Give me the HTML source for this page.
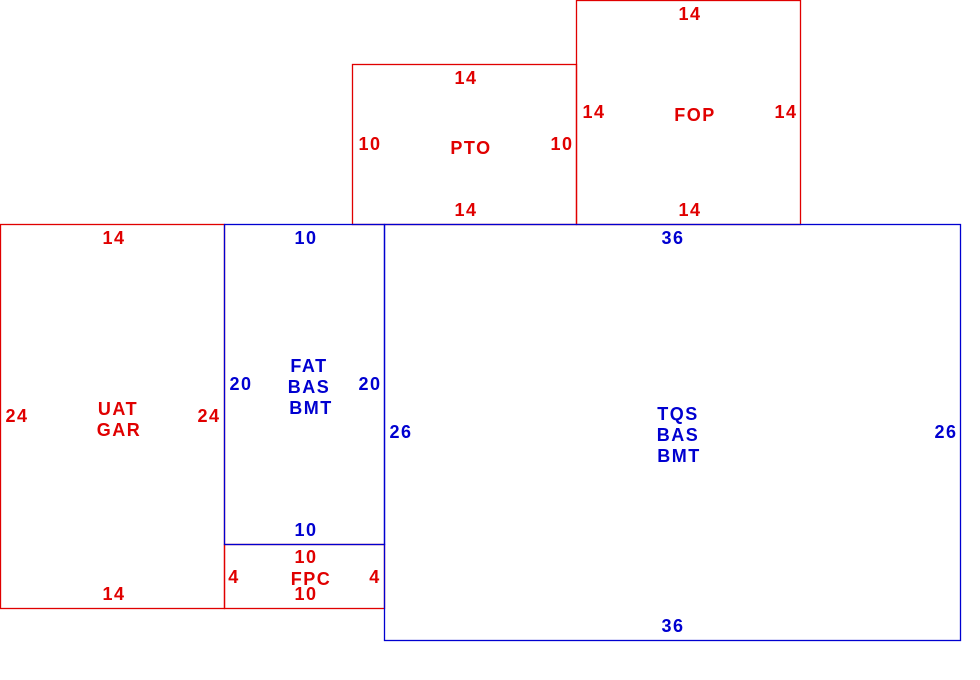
<!DOCTYPE html>
<html><head><meta charset="utf-8"><style>
html,body{margin:0;padding:0;background:#fff;width:980px;height:680px;overflow:hidden}
text{font-family:"Liberation Sans",sans-serif;font-size:18px;font-weight:bold;text-anchor:middle;letter-spacing:1.5px}
.r{fill:#e00000}.b{fill:#0000d0}
</style></head><body>
<svg width="980" height="680" xmlns="http://www.w3.org/2000/svg">
<g fill="none" stroke-width="1.3">
<rect x="352.5" y="64.5" width="224" height="160" stroke="#e00000"/>
<rect x="576.5" y="0.5" width="224" height="224" stroke="#e00000"/>
<rect x="0.5" y="224.5" width="224" height="384" stroke="#e00000"/>
<rect x="224.5" y="544.5" width="160" height="64" stroke="#e00000"/>
<rect x="224.5" y="224.5" width="160" height="320" stroke="#0000d0"/>
<rect x="384.5" y="224.5" width="576" height="416" stroke="#0000d0"/>
</g>
<g class="r">
<text x="466" y="84" class="r">14</text><text x="466" y="216" class="r">14</text>
<text x="370" y="150" class="r">10</text><text x="562" y="150" class="r">10</text>
<text x="471" y="154" class="r">PTO</text>
<text x="690" y="20" class="r">14</text><text x="690" y="216" class="r">14</text>
<text x="594" y="118" class="r">14</text><text x="786" y="118" class="r">14</text>
<text x="695" y="121" class="r">FOP</text>
<text x="114" y="244" class="r">14</text><text x="114" y="600" class="r">14</text>
<text x="17" y="422" class="r">24</text><text x="209" y="422" class="r">24</text>
<text x="118" y="415" class="r">UAT</text><text x="119" y="436" class="r">GAR</text>
<text x="306" y="563" class="r">10</text><text x="306" y="600" class="r">10</text>
<text x="234" y="583" class="r">4</text><text x="375" y="583" class="r">4</text>
<text x="311" y="585" class="r">FPC</text>
</g>
<g>
<text x="306" y="244" class="b">10</text><text x="306" y="536" class="b">10</text>
<text x="241" y="390" class="b">20</text><text x="370" y="390" class="b">20</text>
<text x="309" y="372" class="b">FAT</text><text x="309" y="393" class="b">BAS</text><text x="311" y="414" class="b">BMT</text>
<text x="673" y="244" class="b">36</text><text x="673" y="632" class="b">36</text>
<text x="401" y="438" class="b">26</text><text x="946" y="438" class="b">26</text>
<text x="678" y="420" class="b">TQS</text><text x="678" y="441" class="b">BAS</text><text x="679" y="462" class="b">BMT</text>
</g>
</svg>
</body></html>
